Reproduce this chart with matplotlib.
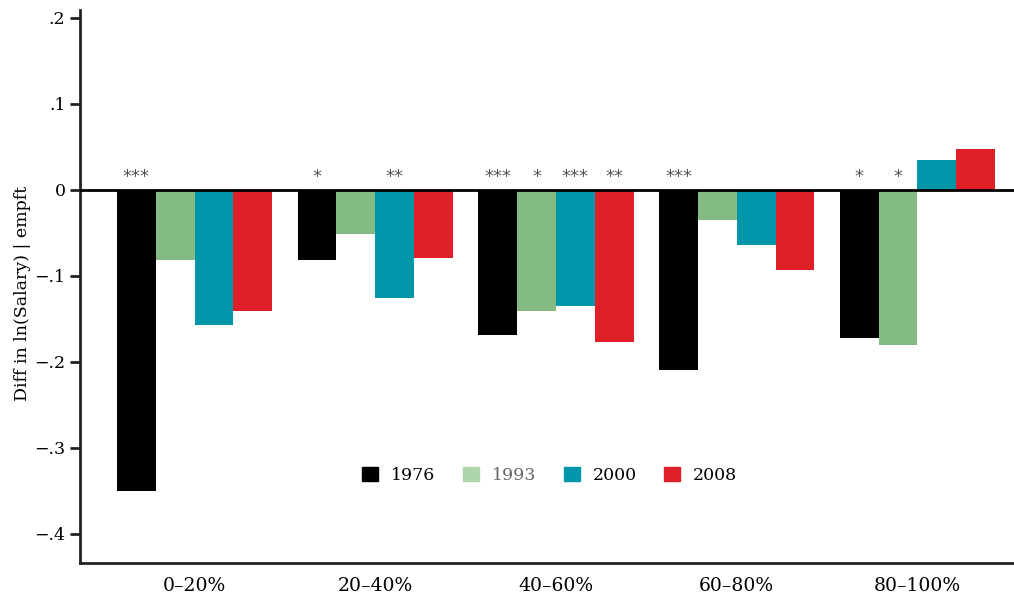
import matplotlib
matplotlib.use("Agg")
import matplotlib.pyplot as plt
import numpy as np
from matplotlib.patches import Patch

plt.rcParams['font.family'] = ['DejaVu Serif', 'DejaVu Sans']

groups = ["0\u201320%", "20\u201340%", "40\u201360%", "60\u201380%", "80\u2013100%"]
years = ["1976", "1993", "2000", "2008"]
v1976 = [-0.350, -0.081, -0.169, -0.210, -0.172]
v1993 = [-0.082, -0.051, -0.141, -0.035, -0.180]
v2000 = [-0.157, -0.126, -0.135, -0.064, 0.035]
v2008 = [-0.141, -0.079, -0.177, -0.093, 0.047]
stars1976 = ["***", "*", "***", "***", "*"]
stars1993 = ["", "", "*", "", "*"]
stars2000 = ["", "**", "***", "", ""]
stars2008 = ["", "", "**", "", ""]

colors = ["#000000", "#83bb82", "#0096a9", "#e02028"]
legend_colors = ["#000000", "#add4aa", "#0096a9", "#e02028"]

fig = plt.figure(figsize=(10.14, 5.94), dpi=100)
ax = fig.add_axes([0.0789, 0.052, 0.9211, 0.931])

x = np.arange(len(groups))
w = 0.2147
series = [v1976, v1993, v2000, v2008]
stars = [stars1976, stars1993, stars2000, stars2008]
for i, (vals, st) in enumerate(zip(series, stars)):
    pos = x + (i - 1.5) * w
    ax.bar(pos, vals, width=w, color=colors[i], zorder=2)
    for p, s in zip(pos, st):
        if s:
            ax.text(p, 0.004, s, ha="center", va="bottom", fontsize=13,
                    color="#555555", family="DejaVu Sans")

ax.axhline(0, color="black", lw=2, zorder=3)

ax.set_xlim(-0.6335, 4.534)
ax.set_ylim(-0.434, 0.209)
ax.set_yticks([0.2, 0.1, 0, -0.1, -0.2, -0.3, -0.4])
ax.set_yticklabels([".2", ".1", "0", "\u2212.1", "\u2212.2", "\u2212.3", "\u2212.4"])
ax.set_xticks(x)
ax.set_xticklabels(groups)
ax.tick_params(axis="x", length=0, pad=10, labelsize=13.5)
ax.tick_params(axis="y", length=7, width=2, color="#222222", labelsize=12.5)
ax.set_ylabel("Diff in ln(Salary) | empft", fontsize=12.5)
ax.yaxis.set_label_coords(-0.053, 0.488)

for s in ["top", "right"]:
    ax.spines[s].set_visible(False)
for s in ["left", "bottom"]:
    ax.spines[s].set_linewidth(2)
    ax.spines[s].set_color("#222222")

handles = [Patch(color=c) for c in legend_colors]
leg = ax.legend(handles, years, ncol=4, frameon=False, loc="center",
                bbox_to_anchor=(0.503, 0.159), fontsize=12.5,
                handlelength=0.9, handleheight=0.9, columnspacing=1.6,
                handletextpad=0.75)
leg.get_texts()[1].set_color("#666666")

fig.savefig("out.png", dpi=100)
